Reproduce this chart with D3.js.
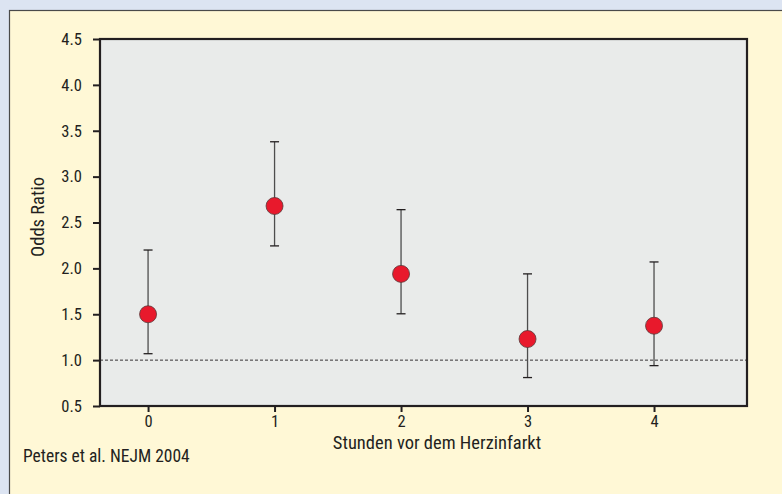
<!DOCTYPE html>
<html lang="de">
<head>
    <meta charset="UTF-8">
    <title>Odds Ratio</title>
    <script src="https://d3js.org/d3.v7.min.js"></script>
    <style>
        html, body { margin: 0; padding: 0; background: #dce4f2; }
        svg { display: block; }
        text { font-family: "Liberation Sans Narrow", "Roboto Condensed", "Liberation Sans", sans-serif; fill: #231f20; }
    </style>
</head>
<body>
<script>

    // hours before infarction, odds ratio with 95% CI
    const hours = [0, 1, 2, 3, 4]
    const oddsRatio = [1.50, 2.68, 1.94, 1.23, 1.375]
    const lower = [1.07, 2.245, 1.505, 0.81, 0.94]
    const upper = [2.20, 3.38, 2.64, 1.94, 2.07]
    const yTicks = [0.5, 1.0, 1.5, 2.0, 2.5, 3.0, 3.5, 4.0, 4.5]

    const W = 782, H = 494
    const margin = { top: 39, right: 35, bottom: 88, left: 100 }
    const width = W - margin.left - margin.right
    const height = H - margin.top - margin.bottom

    const svg = d3.select("body")
        .append("svg")
        .attr("width", W)
        .attr("height", H)

    // cream panel
    svg.append("rect")
        .attr("x", 9.5).attr("y", 10.5)
        .attr("width", W).attr("height", H)
        .attr("fill", "#fff8d6")
        .attr("stroke", "#4a4a4a")
        .attr("stroke-width", 1.2)

    const g = svg.append("g")
        .attr("transform", "translate(" + margin.left + "," + margin.top + ")")

    const x = d3.scaleLinear()
        .domain([-0.38, 4.735])
        .range([0, width])

    const y = d3.scaleLinear()
        .domain([0.5, 4.5])
        .range([height, 0])

    // plot background
    g.append("rect")
        .attr("x", 0).attr("y", 0)
        .attr("width", width).attr("height", height)
        .attr("fill", "#e9ebea")
        .attr("stroke", "#231f20")
        .attr("stroke-width", 2.2)

    // reference line at OR = 1
    g.append("line")
        .attr("x1", 0).attr("x2", width)
        .attr("y1", y(1)).attr("y2", y(1))
        .attr("stroke", "#231f20")
        .attr("stroke-width", 0.9)
        .attr("stroke-dasharray", "3,2")

    // axes
    const yAxis = g.append("g")
        .call(d3.axisLeft(y).tickValues(yTicks).tickFormat(d3.format(".1f")).tickSize(7).tickPadding(11))
    const xAxis = g.append("g")
        .attr("transform", "translate(0," + height + ")")
        .call(d3.axisBottom(x).tickValues(hours).tickFormat(d3.format("d")).tickSize(6).tickPadding(3))

    ;[yAxis, xAxis].forEach(a => {
        a.select(".domain").remove()
        a.selectAll(".tick line").attr("stroke", "#231f20").attr("stroke-width", 2)
        a.selectAll(".tick text").style("font-size", "16.5px").attr("fill", "#231f20")
    })

    // error bars
    const bars = g.selectAll(".err")
        .data(hours)
        .enter()
        .append("g")
        .attr("class", "err")

    bars.append("line")
        .attr("x1", d => x(d)).attr("x2", d => x(d))
        .attr("y1", (d, i) => y(upper[i])).attr("y2", (d, i) => y(lower[i]))
        .attr("stroke", "#4d4d4d")
        .attr("stroke-width", 1.3)

    bars.selectAll(".cap")
        .data((d, i) => [[d, upper[i]], [d, lower[i]]])
        .enter()
        .append("line")
        .attr("x1", d => x(d[0]) - 4.5).attr("x2", d => x(d[0]) + 4.5)
        .attr("y1", d => y(d[1])).attr("y2", d => y(d[1]))
        .attr("stroke", "#231f20")
        .attr("stroke-width", 1.3)

    // points
    g.selectAll(".dot")
        .data(hours)
        .enter()
        .append("circle")
        .attr("cx", d => x(d))
        .attr("cy", (d, i) => y(oddsRatio[i]))
        .attr("r", 8.5)
        .attr("fill", "#e8192c")
        .attr("stroke", "#5a3a3a")
        .attr("stroke-width", 0.8)

    // labels
    svg.append("text")
        .attr("transform", "translate(44,217) rotate(-90)")
        .attr("text-anchor", "middle")
        .style("font-size", "18.5px")
        .text("Odds Ratio")

    svg.append("text")
        .attr("x", 437).attr("y", 449)
        .attr("text-anchor", "middle")
        .style("font-size", "18.5px")
        .text("Stunden vor dem Herzinfarkt")

    svg.append("text")
        .attr("x", 23).attr("y", 462)
        .style("font-size", "17.5px")
        .text("Peters et al. NEJM 2004")

</script>
</body>
</html>
